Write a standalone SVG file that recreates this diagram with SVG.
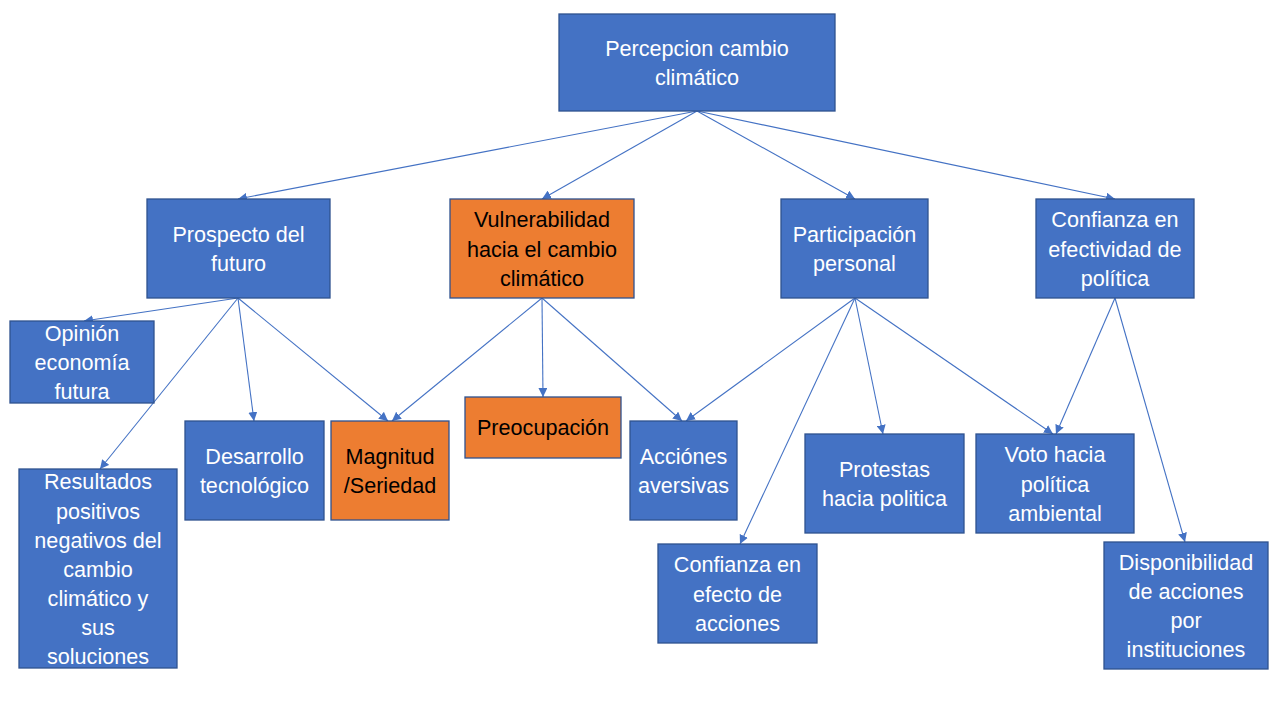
<svg xmlns="http://www.w3.org/2000/svg" width="1280" height="720" viewBox="0 0 1280 720">
<style>
.b rect{fill:#4472C4;stroke:#2F528F;stroke-width:1.3}
.o rect{fill:#ED7D31;stroke:#2F528F;stroke-width:1.3}
text{font-family:"Liberation Sans",Arial,sans-serif;font-size:21.6px;text-anchor:middle;dominant-baseline:central}
.b text{fill:#FFFFFF}
.o text{fill:#000000}
#edges line{stroke:#4472C4;stroke-width:1.1;marker-end:url(#ah)}
</style>
<defs>
<marker id="ah" viewBox="0 0 10 10" refX="10" refY="5" markerWidth="9" markerHeight="9" markerUnits="userSpaceOnUse" orient="auto">
<path d="M0,0 L10,5 L0,10 z" fill="#4472C4"/>
</marker>
</defs>
<rect width="1280" height="720" fill="#FFFFFF"/>
<g id="edges">
<line x1="697" y1="111" x2="238" y2="199"/>
<line x1="697" y1="111" x2="542" y2="199"/>
<line x1="697" y1="111" x2="855" y2="199"/>
<line x1="697" y1="111" x2="1115" y2="199"/>
<line x1="238" y1="298" x2="84" y2="321"/>
<line x1="238" y1="298" x2="100" y2="469"/>
<line x1="238" y1="298" x2="254" y2="421"/>
<line x1="238" y1="298" x2="388" y2="421"/>
<line x1="542" y1="298" x2="392" y2="421"/>
<line x1="542" y1="298" x2="543" y2="397"/>
<line x1="542" y1="298" x2="682" y2="421"/>
<line x1="855" y1="298" x2="686" y2="421"/>
<line x1="855" y1="298" x2="740" y2="544"/>
<line x1="855" y1="298" x2="883" y2="434"/>
<line x1="855" y1="298" x2="1053" y2="434"/>
<line x1="1115" y1="298" x2="1056" y2="434"/>
<line x1="1115" y1="298" x2="1185" y2="542"/>
</g>
<g id="n-percepcion" class="b"><rect x="559" y="14" width="276" height="97"/><text x="697" y="48">Percepcion cambio<tspan x="697" dy="29">climático</tspan></text></g>
<g id="n-prospecto" class="b"><rect x="147" y="199" width="183" height="99"/><text x="238.5" y="234">Prospecto del<tspan x="238.5" dy="29">futuro</tspan></text></g>
<g id="n-vulnerabilidad" class="o"><rect x="450" y="199" width="184" height="99"/><text x="542" y="219.5">Vulnerabilidad<tspan x="542" dy="29">hacia el cambio</tspan><tspan x="542" dy="29">climático</tspan></text></g>
<g id="n-participacion" class="b"><rect x="781" y="199" width="147" height="99"/><text x="854.5" y="234">Participación<tspan x="854.5" dy="29">personal</tspan></text></g>
<g id="n-confianza-politica" class="b"><rect x="1036" y="199" width="158" height="99"/><text x="1115" y="219.5">Confianza en<tspan x="1115" dy="29">efectividad de</tspan><tspan x="1115" dy="29">política</tspan></text></g>
<g id="n-opinion" class="b"><rect x="10" y="321" width="144" height="82"/><text x="82" y="333">Opinión<tspan x="82" dy="29">economía</tspan><tspan x="82" dy="29">futura</tspan></text></g>
<g id="n-resultados" class="b"><rect x="19" y="469" width="158" height="199"/><text x="98" y="481.5">Resultados<tspan x="98" dy="29">positivos</tspan><tspan x="98" dy="29">negativos del</tspan><tspan x="98" dy="29">cambio</tspan><tspan x="98" dy="29">climático y</tspan><tspan x="98" dy="29">sus</tspan><tspan x="98" dy="29">soluciones</tspan></text></g>
<g id="n-desarrollo" class="b"><rect x="185" y="421" width="139" height="99"/><text x="254.5" y="456">Desarrollo<tspan x="254.5" dy="29">tecnológico</tspan></text></g>
<g id="n-magnitud" class="o"><rect x="331" y="421" width="118" height="99"/><text x="390" y="456">Magnitud<tspan x="390" dy="29">/Seriedad</tspan></text></g>
<g id="n-preocupacion" class="o"><rect x="465" y="397" width="156" height="61"/><text x="543" y="427.5">Preocupación</text></g>
<g id="n-acciones" class="b"><rect x="630" y="421" width="107" height="99"/><text x="683.5" y="456">Acciónes<tspan x="683.5" dy="29">aversivas</tspan></text></g>
<g id="n-confianza-efecto" class="b"><rect x="658" y="544" width="159" height="99"/><text x="737.5" y="564.5">Confianza en<tspan x="737.5" dy="29">efecto de</tspan><tspan x="737.5" dy="29">acciones</tspan></text></g>
<g id="n-protestas" class="b"><rect x="805" y="434" width="159" height="99"/><text x="884.5" y="469">Protestas<tspan x="884.5" dy="29">hacia politica</tspan></text></g>
<g id="n-voto" class="b"><rect x="976" y="434" width="158" height="99"/><text x="1055" y="454.5">Voto hacia<tspan x="1055" dy="29">política</tspan><tspan x="1055" dy="29">ambiental</tspan></text></g>
<g id="n-disponibilidad" class="b"><rect x="1104" y="542" width="164" height="127"/><text x="1186" y="562">Disponibilidad<tspan x="1186" dy="29">de acciones</tspan><tspan x="1186" dy="29">por</tspan><tspan x="1186" dy="29">instituciones</tspan></text></g>
</svg>
